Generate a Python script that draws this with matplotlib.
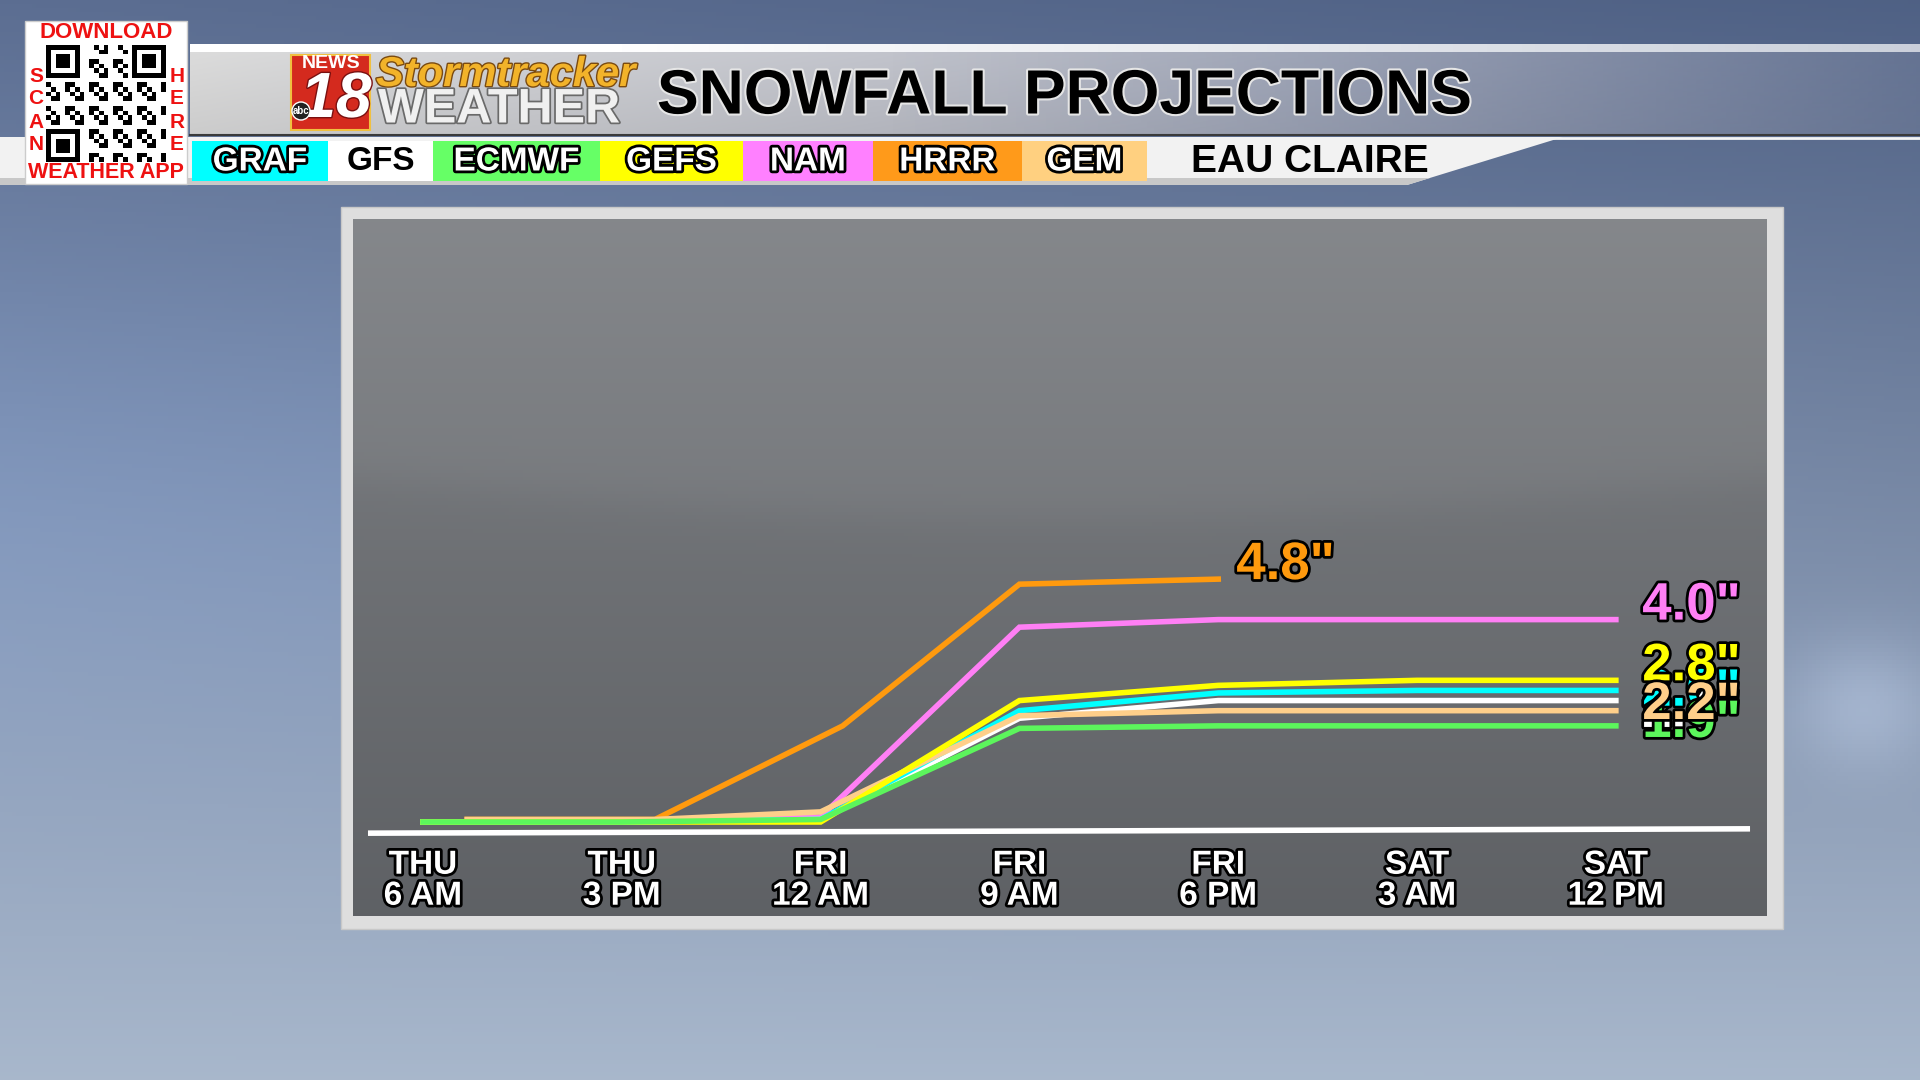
import numpy as np
import matplotlib
matplotlib.use("Agg")
import matplotlib.pyplot as plt
import matplotlib.patheffects as pe
from matplotlib.patches import Rectangle, Polygon, Circle

plt.rcParams['font.family'] = ['Liberation Sans', 'DejaVu Sans']
plt.rcParams['font.weight'] = 'bold'

# ---- data (hours after THU 6 AM, snowfall inches) ----
tick_hours = [0, 9, 18, 27, 36, 45, 54]
tick_labels = ['THU\n6 AM', 'THU\n3 PM', 'FRI\n12 AM', 'FRI\n9 AM',
               'FRI\n6 PM', 'SAT\n3 AM', 'SAT\n12 PM']

graf_h = [0, 9, 18, 27, 36, 45, 54]
graf_v = [0.0, 0.0, 0.05, 2.2, 2.55, 2.6, 2.6]
gfs_h = [0, 9, 18, 27, 36, 45, 54]
gfs_v = [0.0, 0.0, 0.05, 2.05, 2.4, 2.4, 2.4]
ecmwf_h = [0, 9, 18, 27, 36, 45, 54]
ecmwf_v = [0.0, 0.0, 0.05, 1.85, 1.9, 1.9, 1.9]
gefs_h = [0, 9, 18, 27, 36, 45, 54]
gefs_v = [0.0, 0.0, 0.0, 2.4, 2.7, 2.8, 2.8]
nam_h = [0, 9, 18, 27, 36, 45, 54]
nam_v = [0.0, 0.0, 0.1, 3.85, 4.0, 4.0, 4.0]
gem_h = [2, 10.5, 18, 27, 36, 45, 54]
gem_v = [0.05, 0.05, 0.2, 2.1, 2.2, 2.2, 2.2]
hrrr_h = [2, 10.5, 19, 27, 36]
hrrr_v = [0.05, 0.05, 1.9, 4.7, 4.8]

models = ['GRAF', 'GFS', 'ECMWF', 'GEFS', 'NAM', 'HRRR', 'GEM']
line_colors = {'GRAF': '#00FFFF', 'GFS': '#FFFFFF', 'ECMWF': '#5CF55C',
               'GEFS': '#FFFF00', 'NAM': '#FF7FF5', 'HRRR': '#FF9A0E',
               'GEM': '#FFCF8A'}
box_colors = {'GRAF': '#00FFFF', 'GFS': '#FFFFFF', 'ECMWF': '#66FF66',
              'GEFS': '#FFFF00', 'NAM': '#FF80FF', 'HRRR': '#FF9A1A',
              'GEM': '#FFD080'}
series = {'GRAF': (graf_h, graf_v), 'GFS': (gfs_h, gfs_v),
          'ECMWF': (ecmwf_h, ecmwf_v), 'GEFS': (gefs_h, gefs_v),
          'NAM': (nam_h, nam_v), 'GEM': (gem_h, gem_v),
          'HRRR': (hrrr_h, hrrr_v)}
draw_order = ['NAM', 'HRRR', 'GFS', 'GRAF', 'GEM', 'GEFS', 'ECMWF']
# label vertical nudges (points) so overlapping labels look like the original
label_nudge = {'GFS': -19, 'GRAF': -11, 'ECMWF': -8, 'GEFS': 0,
               'GEM': -6, 'NAM': 0, 'HRRR': 0}
label_order = ['GFS', 'GRAF', 'ECMWF', 'GEFS', 'GEM', 'NAM', 'HRRR']

W, H = 1920, 1080
fig = plt.figure(figsize=(19.2, 10.8), dpi=100)

# ---- background / decorations in pixel coordinates ----
bg = fig.add_axes([0, 0, 1, 1])
bg.set_xlim(0, W)
bg.set_ylim(H, 0)
bg.axis('off')

yy, xx = np.mgrid[0:H:4, 0:W:4]
fy = yy / H
fx = xx / W
top = np.array([0.36, 0.43, 0.57])
bot = np.array([0.66, 0.72, 0.80])
sky = top[None, None, :] * (1 - fy[..., None]) + bot[None, None, :] * fy[..., None]
sky += (0.06 * (1 - fx) * np.exp(-((fy - 0.45) / 0.25) ** 2))[..., None] * np.array([0.2, 0.5, 1.0])
sky -= (0.05 * fx * (1 - fy))[..., None]
sky += (0.10 * np.exp(-((fx - 0.97) / 0.04) ** 2 - ((fy - 0.65) / 0.06) ** 2))[..., None]
bg.imshow(np.clip(sky, 0, 1), extent=[0, W, H, 0], aspect='auto', zorder=0)

# header silver band
hx = np.linspace(0, 1, 400)
band = np.zeros((40, 400, 4))
vy = np.linspace(0, 1, 40)[:, None]
grey = 0.86 - 0.25 * hx[None, :] - 0.06 * vy
band[..., 0] = grey
band[..., 1] = grey + 0.02 * hx[None, :]
band[..., 2] = grey + 0.10 * hx[None, :]
band[..., 3] = np.clip(1.15 - 0.9 * hx[None, :] ** 2, 0, 1)
bg.imshow(band, extent=[190, W, 135, 52], aspect='auto', zorder=1)
stripe = np.ones((2, 400, 4))
stripe[..., 3] = np.clip(1.1 - 0.4 * hx[None, :], 0, 1)
bg.imshow(stripe, extent=[190, W, 52, 44], aspect='auto', zorder=1)
bg.plot([190, W], [135, 135], color='#3a3a3a', lw=1.5, zorder=2)
bg.plot([190, W], [137.5, 137.5], color='#f4f4f4', lw=2, zorder=2)

# legend row strip
bg.add_patch(Polygon([[0, 137], [1563, 137], [1407, 185], [0, 185]],
                     closed=True, facecolor='#f2f2f2', edgecolor='none', zorder=2))
bg.add_patch(Polygon([[0, 178], [1430, 178], [1407, 185], [0, 185]],
                     closed=True, facecolor='#c8c8c8', edgecolor='none', zorder=2))

stroke_k = [pe.withStroke(linewidth=4, foreground='black')]
box_edges = [192, 328, 433, 600, 743, 873, 1022, 1147]
for i, m in enumerate(models):
    x0, x1 = box_edges[i], box_edges[i + 1]
    bg.add_patch(Rectangle((x0, 141), x1 - x0, 40, facecolor=box_colors[m],
                           edgecolor='none', zorder=3))
    if m == 'GFS':
        bg.text((x0 + x1) / 2, 162, m, color='black', fontsize=24,
                ha='center', va='center', zorder=4)
    else:
        bg.text((x0 + x1) / 2, 162, m, color='white', fontsize=24,
                ha='center', va='center', zorder=4, path_effects=stroke_k)
bg.text(1310, 162, 'EAU CLAIRE', color='black', fontsize=28,
        ha='center', va='center', zorder=4)

# QR box
bg.add_patch(Rectangle((25, 21), 162, 163, facecolor='white',
                       edgecolor='#cccccc', lw=1, zorder=5))
red = '#ee1111'
bg.text(106, 33, 'DOWNLOAD', color=red, fontsize=16, ha='center',
        va='center', zorder=6)
bg.text(106, 173, 'WEATHER APP', color=red, fontsize=15.5, ha='center',
        va='center', zorder=6)
for k, ch in enumerate('SCAN'):
    bg.text(36, 76 + k * 23, ch, color=red, fontsize=15, ha='center',
            va='center', zorder=6)
for k, ch in enumerate('HERE'):
    bg.text(177, 76 + k * 23, ch, color=red, fontsize=15, ha='center',
            va='center', zorder=6)
n = 25
ii, jj = np.mgrid[0:n, 0:n]
qr = ((ii * 7 + jj * 13 + ii * jj) % 5 < 2).astype(float)
for (r0, c0) in [(0, 0), (0, n - 7), (n - 7, 0)]:
    qr[max(r0 - 1, 0):r0 + 8, max(c0 - 1, 0):c0 + 8] = 0
    qr[r0:r0 + 7, c0:c0 + 7] = 1
    qr[r0 + 1:r0 + 6, c0 + 1:c0 + 6] = 0
    qr[r0 + 2:r0 + 5, c0 + 2:c0 + 5] = 1
bg.imshow(1 - qr, cmap='gray', vmin=0, vmax=1, extent=[46, 166, 162, 45],
          aspect='auto', interpolation='nearest', zorder=6)

# station logo
bg.add_patch(Rectangle((291, 55), 79, 75, facecolor='#d42a1e',
                       edgecolor='#f0c040', lw=1.5, zorder=5))
bg.text(331, 64, 'NEWS', color='white', fontsize=14, ha='center',
        va='center', zorder=6)
bg.text(336, 100, '18', color='white', fontsize=46, style='italic',
        ha='center', va='center', zorder=6,
        path_effects=[pe.withStroke(linewidth=2, foreground='#7a1010')])
bg.add_patch(Circle((301, 111), 9, facecolor='#222222', edgecolor='white',
                    lw=1, zorder=7))
bg.text(301, 111, 'abc', color='white', fontsize=7, ha='center',
        va='center', zorder=8)
bg.text(376, 75, 'Stormtracker', color='#f2b32a', fontsize=30,
        style='italic', ha='left', va='center', zorder=6,
        path_effects=[pe.withStroke(linewidth=2, foreground='#7a4a10')])
bg.text(378, 110, 'WEATHER', color='#f0f0f0', fontsize=35, ha='left',
        va='center', zorder=6,
        path_effects=[pe.withStroke(linewidth=2.5, foreground='#6a6a6a')])
bg.text(657, 97, 'SNOWFALL PROJECTIONS', color='black', fontsize=45,
        ha='left', va='center', zorder=6,
        path_effects=[pe.withStroke(linewidth=3, foreground='#e6e6e6')])

# chart frame and panel
bg.add_patch(Rectangle((341, 207), 1442, 722, facecolor='#dedede',
                       edgecolor='#c8c8c8', lw=1, zorder=3))
py, px = np.mgrid[0:200, 0:400]
ny = py / 199.0
nx = px / 399.0
curve = 0.37 + 0.06 * np.sin(np.pi * nx)
shade = 0.49 - 0.12 * ny + 0.03 * (1 / (1 + np.exp((ny - curve) * 60)))
panel = np.stack([shade, shade + 0.01, shade + 0.025], axis=-1)
bg.imshow(np.clip(panel, 0, 1), extent=[353, 1767, 916, 219],
          aspect='auto', zorder=4)

# ---- data axes ----
px_per_h = 22.09
px_per_in = 50.6
x0_px, y0_px = 423, 822
left_px, right_px, top_px, bot_px = 353, 1767, 219, 840
ax = fig.add_axes([left_px / W, 1 - bot_px / H, (right_px - left_px) / W,
                   (bot_px - top_px) / H])
ax.set_facecolor('none')
ax.set_xlim((left_px - x0_px) / px_per_h, (right_px - x0_px) / px_per_h)
ax.set_ylim((y0_px - bot_px) / px_per_in, (y0_px - top_px) / px_per_in)
for s in ax.spines.values():
    s.set_visible(False)
ax.set_yticks([])
ax.set_xticks(tick_hours)
ax.set_xticklabels(tick_labels, color='white', fontsize=24,
                   fontweight='bold', linespacing=1.0)
ax.tick_params(axis='x', length=0, pad=7)
for lbl in ax.get_xticklabels():
    lbl.set_path_effects([pe.withStroke(linewidth=4, foreground='black')])

# baseline
ax.plot([0.0106, 0.988], [0.011, 0.018], transform=ax.transAxes,
        color='white', lw=4, solid_capstyle='butt', zorder=2)

for m in draw_order:
    h, v = series[m]
    ax.plot(h, v, color=line_colors[m], lw=4, solid_joinstyle='miter',
            zorder=3)

for m in label_order:
    h, v = series[m]
    dx = 13 if m == 'HRRR' else 19
    ax.annotate(f'{v[-1]:.1f}"', (h[-1], v[-1]),
                xytext=(dx, label_nudge[m]), textcoords='offset points',
                ha='left', va='baseline', fontsize=38, fontweight='bold',
                color=line_colors[m], zorder=5, annotation_clip=False,
                path_effects=[pe.withStroke(linewidth=4, foreground='black')])

fig.savefig('out.png', dpi=100)
